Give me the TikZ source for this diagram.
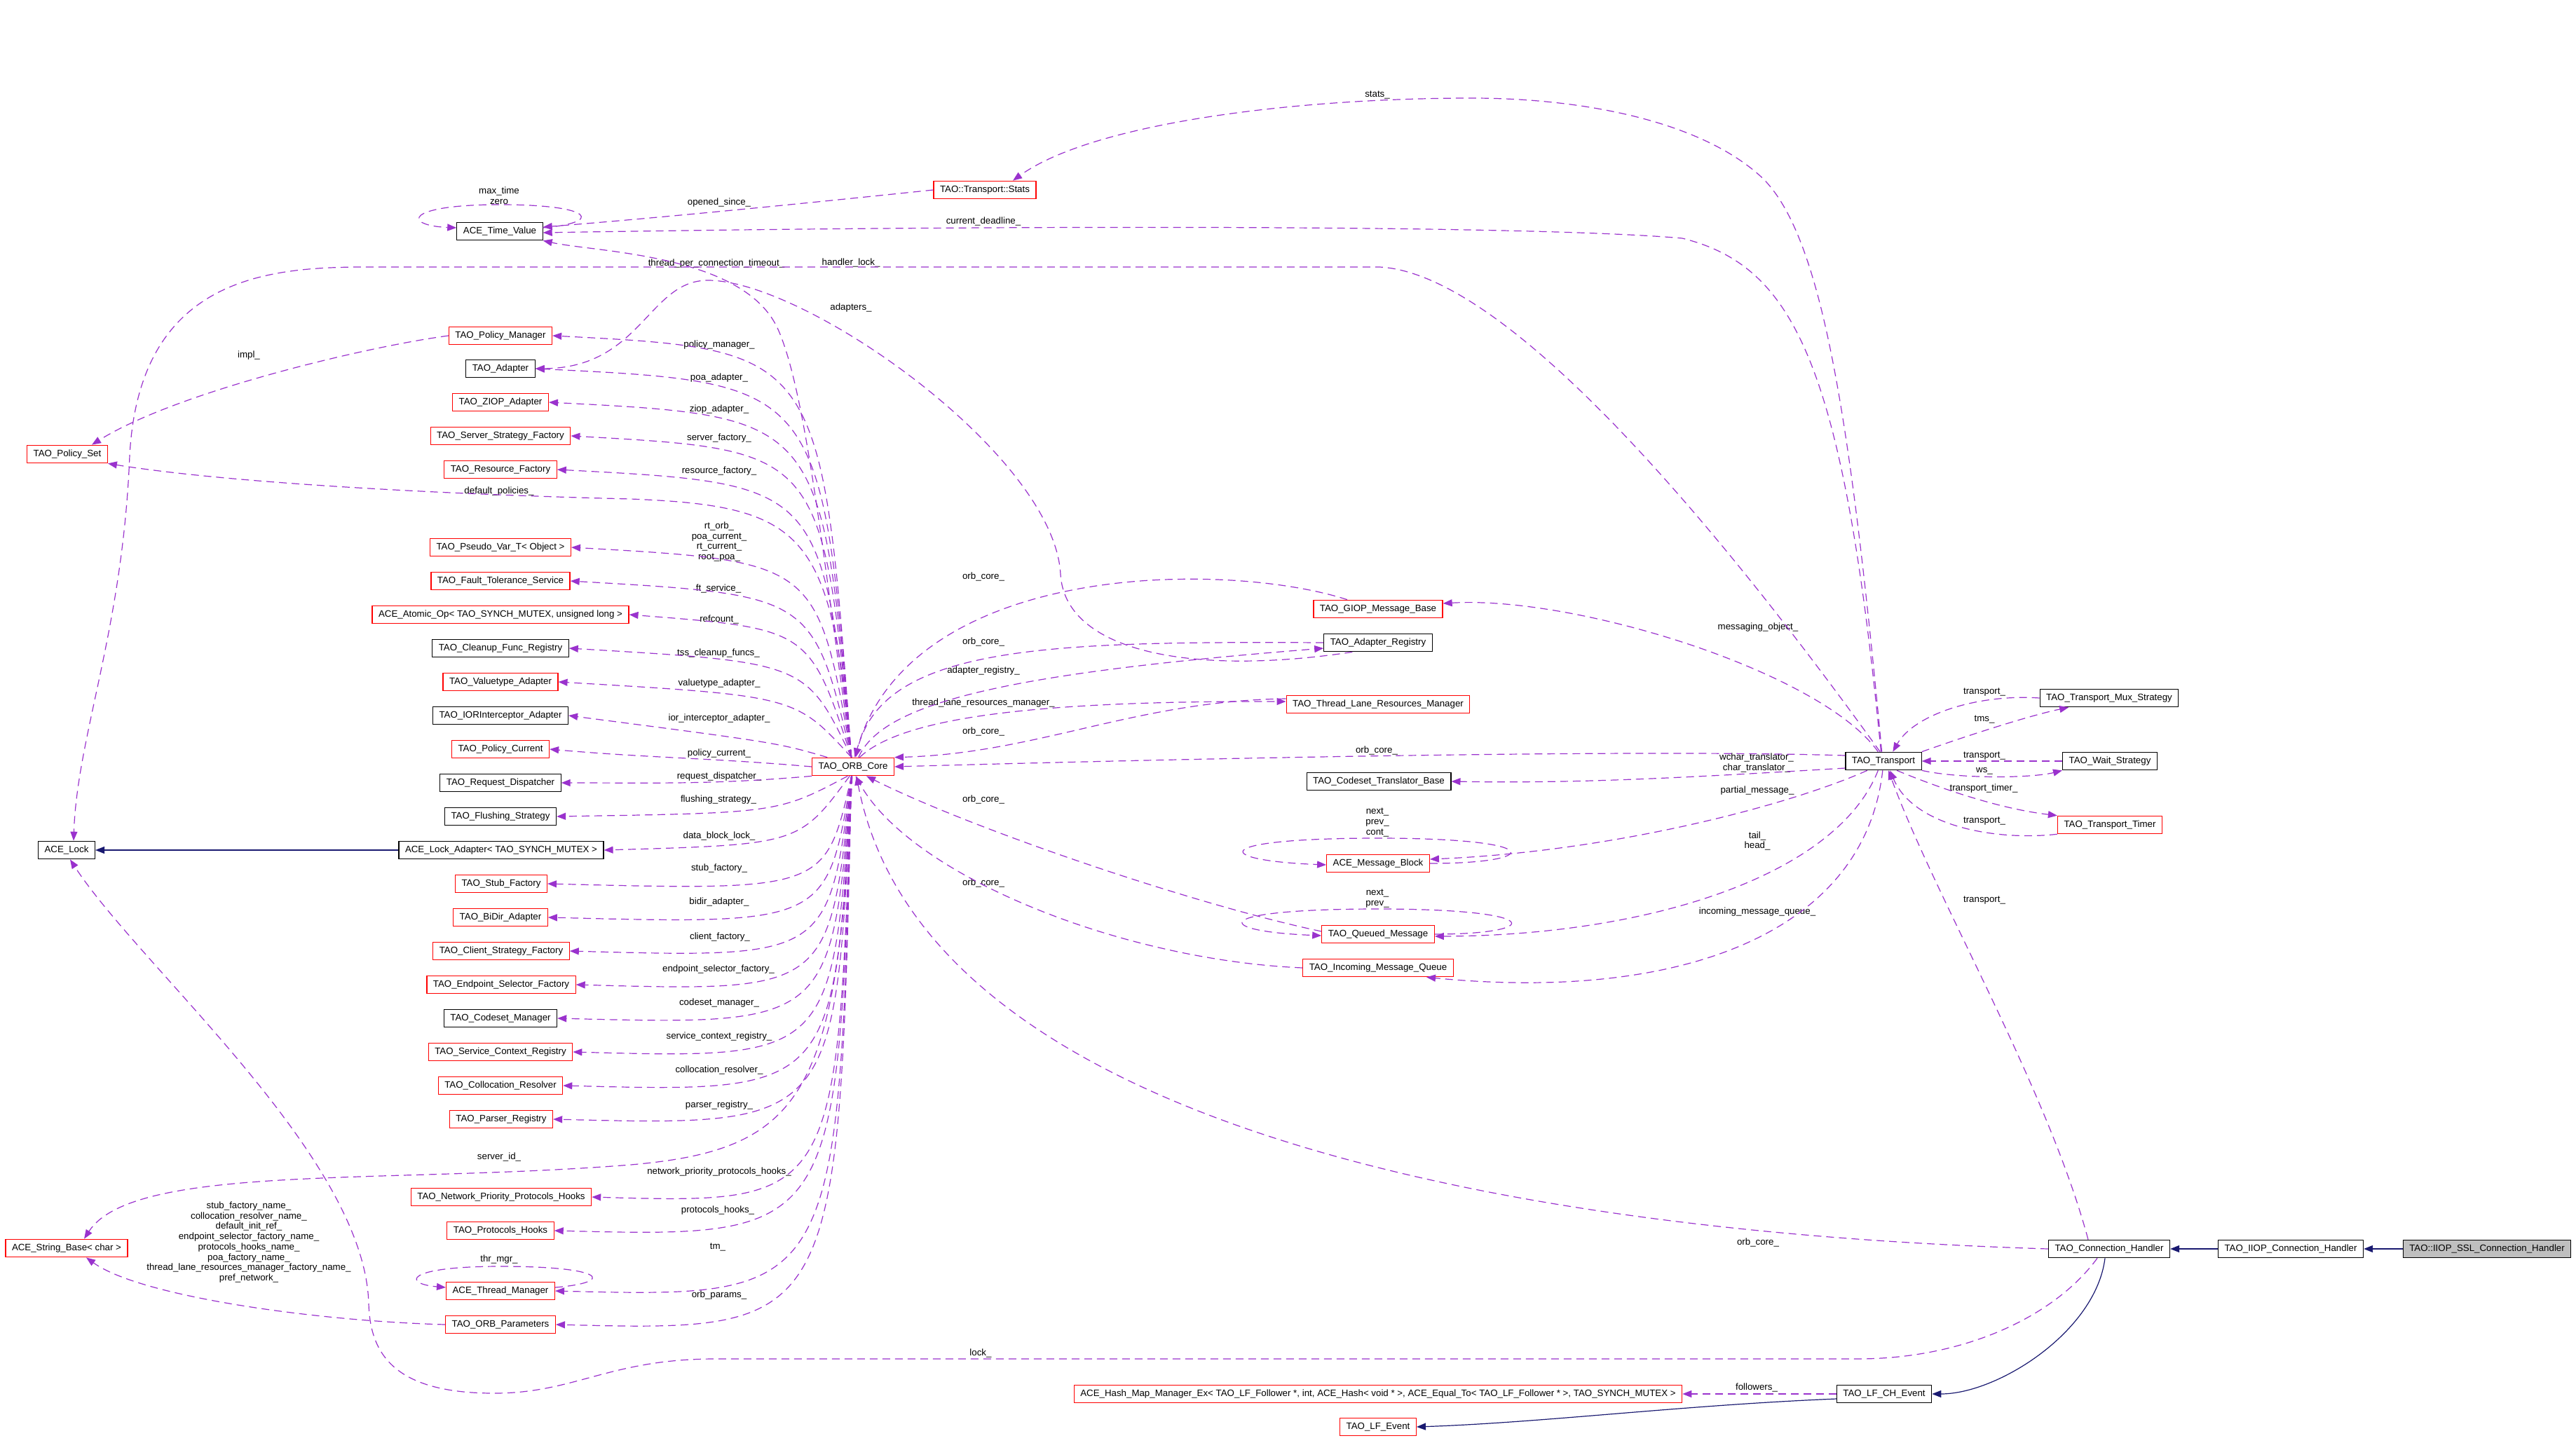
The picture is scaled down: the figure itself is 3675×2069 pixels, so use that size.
\documentclass[tikz,border=0pt]{standalone}
\usepackage{fontspec}
\setmainfont{Liberation Sans}
\usepackage{tikz}
\usetikzlibrary{arrows.meta}
\definecolor{depcol}{HTML}{9A32CD}
\definecolor{inhcol}{HTML}{191970}
\definecolor{boxgray}{HTML}{BFBFBF}

\begin{document}
\begin{tikzpicture}[x=1pt, y=1pt, >={Triangle[length=13pt,width=10pt]},
                        font=\fontsize{13.3}{14.7}\selectfont,
                        cls/.style={draw=black,line width=1.2pt,minimum height=25.5pt,inner xsep=9pt,text height=10pt,text depth=3pt},
                        clsr/.style={cls,draw=red},
                        clsg/.style={cls,fill=boxgray},
                        dep/.style={->,draw=depcol,line width=1.2pt,dash pattern=on 11pt off 7pt},
                        inh/.style={->,draw=inhcol,line width=1.2pt},
                        lbl/.style={inner sep=0pt,align=center}
                        ]
    \useasboundingbox (0,0) rectangle (3675,-2069);
    \node[cls] at (713,-330) (tv) {ACE\_Time\_Value};
    \node[clsr] at (1405,-271) (stats) {TAO::Transport::Stats};
    \node[clsr] at (714,-479) (pm) {TAO\_Policy\_Manager};
    \node[cls] at (714,-526) (ad) {TAO\_Adapter};
    \node[clsr] at (714,-574) (ziop) {TAO\_ZIOP\_Adapter};
    \node[clsr] at (714,-622) (ssf) {TAO\_Server\_Strategy\_Factory};
    \node[clsr] at (714,-670) (rf) {TAO\_Resource\_Factory};
    \node[clsr] at (96,-648) (pset) {TAO\_Policy\_Set};
    \node[clsr] at (714,-781) (pv) {TAO\_Pseudo\_Var\_T< Object >};
    \node[clsr] at (714,-829) (fts) {TAO\_Fault\_Tolerance\_Service};
    \node[clsr] at (714,-877) (aop) {ACE\_Atomic\_Op< TAO\_SYNCH\_MUTEX, unsigned long >};
    \node[cls] at (714,-925) (cfr) {TAO\_Cleanup\_Func\_Registry};
    \node[clsr] at (714,-973) (vta) {TAO\_Valuetype\_Adapter};
    \node[cls] at (714,-1021) (ior) {TAO\_IORInterceptor\_Adapter};
    \node[clsr] at (714,-1069) (pc) {TAO\_Policy\_Current};
    \node[cls] at (714,-1117) (rd) {TAO\_Request\_Dispatcher};
    \node[cls] at (714,-1165) (fs) {TAO\_Flushing\_Strategy};
    \node[cls] at (715,-1213) (lad) {ACE\_Lock\_Adapter< TAO\_SYNCH\_MUTEX >};
    \node[cls] at (95,-1213) (lock) {ACE\_Lock};
    \node[clsr] at (715,-1261) (stub) {TAO\_Stub\_Factory};
    \node[clsr] at (714,-1309) (bidir) {TAO\_BiDir\_Adapter};
    \node[clsr] at (715,-1357) (csf) {TAO\_Client\_Strategy\_Factory};
    \node[clsr] at (715,-1405) (esf) {TAO\_Endpoint\_Selector\_Factory};
    \node[cls] at (714,-1453) (cm) {TAO\_Codeset\_Manager};
    \node[clsr] at (714,-1501) (scr) {TAO\_Service\_Context\_Registry};
    \node[clsr] at (714,-1549) (cr) {TAO\_Collocation\_Resolver};
    \node[clsr] at (715,-1597) (pr) {TAO\_Parser\_Registry};
    \node[clsr] at (715,-1708) (npph) {TAO\_Network\_Priority\_Protocols\_Hooks};
    \node[clsr] at (714,-1756) (ph) {TAO\_Protocols\_Hooks};
    \node[clsr] at (714,-1842) (thm) {ACE\_Thread\_Manager};
    \node[clsr] at (714,-1890) (op) {TAO\_ORB\_Parameters};
    \node[clsr] at (95,-1781) (sb) {ACE\_String\_Base< char >};
    \node[clsr] at (1217,-1094) (orb) {TAO\_ORB\_Core};
    \node[clsr] at (1966,-869) (giop) {TAO\_GIOP\_Message\_Base};
    \node[cls] at (1966,-917) (ar) {TAO\_Adapter\_Registry};
    \node[clsr] at (1966,-1005) (tlrm) {TAO\_Thread\_Lane\_Resources\_Manager};
    \node[cls] at (1967,-1115) (ctb) {TAO\_Codeset\_Translator\_Base};
    \node[clsr] at (1966,-1232) (amb) {ACE\_Message\_Block};
    \node[clsr] at (1966,-1333) (qm) {TAO\_Queued\_Message};
    \node[clsr] at (1966,-1381) (imq) {TAO\_Incoming\_Message\_Queue};
    \node[cls] at (2687,-1086) (tr) {TAO\_Transport};
    \node[cls] at (3009,-996) (mux) {TAO\_Transport\_Mux\_Strategy};
    \node[cls] at (3010,-1086) (ws) {TAO\_Wait\_Strategy};
    \node[clsr] at (3010,-1177) (tt) {TAO\_Transport\_Timer};
    \node[cls] at (3009,-1782) (ch) {TAO\_Connection\_Handler};
    \node[cls] at (3268,-1782) (iiop) {TAO\_IIOP\_Connection\_Handler};
    \node[clsg] at (3548,-1782) (ssl) {TAO::IIOP\_SSL\_Connection\_Handler};
    \node[clsr] at (1966,-1989) (hash) {ACE\_Hash\_Map\_Manager\_Ex< TAO\_LF\_Follower *, int, ACE\_Hash< void * >, ACE\_Equal\_To< TAO\_LF\_Follower * >, TAO\_SYNCH\_MUTEX >};
    \node[cls] at (2688,-1989) (lfch) {TAO\_LF\_CH\_Event};
    \node[clsr] at (1966,-2036) (lfe) {TAO\_LF\_Event};

    \node[lbl] at (712,-279.5) (lzero) {max\_time\\zero};
    \node[lbl] at (1026,-289) (lopen) {opened\_since\_};
    \node[lbl] at (1965,-136) (lstats) {stats\_};
    \node[lbl] at (1403,-316) (ldead) {current\_deadline\_};
    \node[lbl] at (1022,-376) (ltpct) {thread\_per\_connection\_timeout\_};
    \node[lbl] at (1214,-375) (lhlock) {handler\_lock\_};
    \node[lbl] at (1214,-439) (ladapt) {adapters\_};
    \node[lbl] at (355,-507) (limpl) {impl\_};
    \node[lbl] at (1026,-492) (lpm) {policy\_manager\_};
    \node[lbl] at (1026,-539) (lpoa) {poa\_adapter\_};
    \node[lbl] at (1026,-584) (lziop) {ziop\_adapter\_};
    \node[lbl] at (1026,-625) (lssf) {server\_factory\_};
    \node[lbl] at (1026,-672) (lrf) {resource\_factory\_};
    \node[lbl] at (712,-701) (lpset) {default\_policies\_};
    \node[lbl] at (1026,-773) (lpv) {rt\_orb\_\\poa\_current\_\\rt\_current\_\\root\_poa\_};
    \node[lbl] at (1025,-840) (lfts) {ft\_service\_};
    \node[lbl] at (1026,-884) (laop) {refcount\_};
    \node[lbl] at (1025,-932) (lcfr) {tss\_cleanup\_funcs\_};
    \node[lbl] at (1026,-975) (lvta) {valuetype\_adapter\_};
    \node[lbl] at (1026,-1025) (lior) {ior\_interceptor\_adapter\_};
    \node[lbl] at (1026,-1075) (lpc) {policy\_current\_};
    \node[lbl] at (1026,-1108) (lrd) {request\_dispatcher\_};
    \node[lbl] at (1025,-1141) (lfs) {flushing\_strategy\_};
    \node[lbl] at (1026,-1193) (llad) {data\_block\_lock\_};
    \node[lbl] at (1026,-1239) (lstub) {stub\_factory\_};
    \node[lbl] at (1026,-1287) (lbidir) {bidir\_adapter\_};
    \node[lbl] at (1027,-1337) (lcsf) {client\_factory\_};
    \node[lbl] at (1025,-1383) (lesf) {endpoint\_selector\_factory\_};
    \node[lbl] at (1026,-1431) (lcm) {codeset\_manager\_};
    \node[lbl] at (1026,-1479) (lscr) {service\_context\_registry\_};
    \node[lbl] at (1026,-1527) (lcr) {collocation\_resolver\_};
    \node[lbl] at (1026,-1577) (lpr) {parser\_registry\_};
    \node[lbl] at (712,-1651) (lsid) {server\_id\_};
    \node[lbl] at (1026,-1672) (lnpph) {network\_priority\_protocols\_hooks\_};
    \node[lbl] at (1024,-1727) (lph) {protocols\_hooks\_};
    \node[lbl] at (1024,-1779) (ltm) {tm\_};
    \node[lbl] at (712,-1797) (lthr) {thr\_mgr\_};
    \node[lbl] at (1026,-1848) (lop) {orb\_params\_};
    \node[lbl] at (355,-1772.5) (lsb) {stub\_factory\_name\_\\collocation\_resolver\_name\_\\default\_init\_ref\_\\endpoint\_selector\_factory\_name\_\\protocols\_hooks\_name\_\\poa\_factory\_name\_\\thread\_lane\_resources\_manager\_factory\_name\_\\pref\_network\_};
    \node[lbl] at (1403,-823) (lgiop) {orb\_core\_};
    \node[lbl] at (1403,-916) (lar) {orb\_core\_};
    \node[lbl] at (1403,-957) (lareg) {adapter\_registry\_};
    \node[lbl] at (1403,-1003) (ltlrm) {thread\_lane\_resources\_manager\_};
    \node[lbl] at (1403,-1044) (ltlorb) {orb\_core\_};
    \node[lbl] at (1403,-1141) (lqm) {orb\_core\_};
    \node[lbl] at (1403,-1260) (limq) {orb\_core\_};
    \node[lbl] at (2508,-895) (lmsg) {messaging\_object\_};
    \node[lbl] at (1964,-1071) (ltrorb) {orb\_core\_};
    \node[lbl] at (2506,-1088.5) (lctb) {wchar\_translator\_\\char\_translator\_};
    \node[lbl] at (2507,-1128) (lamb) {partial\_message\_};
    \node[lbl] at (1965,-1173.5) (lambself) {next\_\\prev\_\\cont\_};
    \node[lbl] at (2507,-1200) (ltail) {tail\_\\head\_};
    \node[lbl] at (1965,-1282) (lqmself) {next\_\\prev\_};
    \node[lbl] at (2507,-1301) (limqt) {incoming\_message\_queue\_};
    \node[lbl] at (2831,-988) (lmux) {transport\_};
    \node[lbl] at (2831,-1027) (ltms) {tms\_};
    \node[lbl] at (2831,-1079) (lws) {transport\_};
    \node[lbl] at (2831,-1100) (lwsr) {ws\_};
    \node[lbl] at (2830,-1125) (ltt) {transport\_timer\_};
    \node[lbl] at (2831,-1172) (lttr) {transport\_};
    \node[lbl] at (2831,-1285) (lchtr) {transport\_};
    \node[lbl] at (2508,-1773) (lchorb) {orb\_core\_};
    \node[lbl] at (1399,-1931) (llock) {lock\_};
    \node[lbl] at (2506,-1980) (lfol) {followers\_};

    \draw[dep] ([yshift=5pt]tv.east) .. controls (860,-318) and (850,-292) .. (713,-292) .. controls (575,-292) and (575,-322) .. ([yshift=5pt]tv.west);
    \draw[dep] (stats.west) .. controls (1150,-290) and (950,-310) .. ([yshift=6pt]tv.east);
    \draw[dep] (tr.105) .. controls (2630,-520) and (2560,-380) .. (2400,-340) .. controls (2200,-322) and (1500,-320) .. ([yshift=-2pt]tv.east);
    \draw[dep] (tr.100) .. controls (2640,-600) and (2600,-330) .. (2510,-250) .. controls (2420,-170) and (2250,-140) .. (2100,-140) .. controls (1850,-140) and (1560,-175) .. ([xshift=40pt]stats.north);
    \draw[dep] (orb.100) .. controls (1175,-800) and (1150,-560) .. (1110,-470) .. controls (1062,-362) and (850,-360) .. (tv.south east);
    \draw[dep] (tr.110) .. controls (2450,-750) and (2150,-390) .. (1968,-381) -- (560,-381) .. controls (420,-381) and (200,-370) .. (185,-650) .. controls (175,-900) and (110,-1050) .. ([xshift=10pt]lock.north);
    \draw[dep] (ar.-160) .. controls (1700,-965) and (1520,-930) .. (1513,-820) .. controls (1505,-650) and (1150,-400) .. (1010,-400) .. controls (925,-400) and (915,-525) .. (ad.east);
    \draw[dep] (pm.west) .. controls (520,-495) and (250,-560) .. ([xshift=35pt]pset.north);
    \draw[dep] (orb.100) .. controls (1172,-499) .. (pm.east);
    \draw[dep] (orb.100) .. controls (1172,-546) .. (ad.east);
    \draw[dep] (orb.100) .. controls (1172,-594) .. (ziop.east);
    \draw[dep] (orb.100) .. controls (1172,-642) .. (ssf.east);
    \draw[dep] (orb.100) .. controls (1170,-690) .. (rf.east);
    \draw[dep] (orb.100) .. controls (1185,-760) and (1150,-722) .. (900,-712) .. controls (650,-706) and (330,-690) .. (pset.south east);
    \draw[dep] (orb.100) .. controls (1166,-801) .. (pv.east);
    \draw[dep] (orb.100) .. controls (1160,-849) .. (fts.east);
    \draw[dep] (orb.100) .. controls (1155,-897) .. (aop.east);
    \draw[dep] (orb.100) .. controls (1150,-945) .. (cfr.east);
    \draw[dep] (orb.100) .. controls (1135,-993) .. (vta.east);
    \draw[dep] (orb.160) .. controls (1110,-1060) .. (ior.east);
    \draw[dep] (orb.west) to [out=175,in=-5] (pc.east);
    \draw[dep] (orb.south west) to [out=185,in=0] (rd.east);
    \draw[dep] (orb.-120) .. controls (1110,-1160) .. (fs.east);
    \draw[dep] (orb.-110) .. controls (1140,-1205) .. (lad.east);
    \draw[inh] (lad.west) -- (lock.east);
    \draw[dep] (orb.-100) .. controls (1178,-1271) .. (stub.east);
    \draw[dep] (orb.-100) .. controls (1180,-1319) .. (bidir.east);
    \draw[dep] (orb.-100) .. controls (1182,-1367) .. (csf.east);
    \draw[dep] (orb.-100) .. controls (1184,-1415) .. (esf.east);
    \draw[dep] (orb.-100) .. controls (1186,-1463) .. (cm.east);
    \draw[dep] (orb.-100) .. controls (1188,-1511) .. (scr.east);
    \draw[dep] (orb.-100) .. controls (1190,-1559) .. (cr.east);
    \draw[dep] (orb.-100) .. controls (1192,-1607) .. (pr.east);
    \draw[dep] (orb.-95) .. controls (1195,-1560) and (1150,-1640) .. (900,-1662) .. controls (550,-1690) and (190,-1660) .. ([xshift=25pt]sb.north);
    \draw[dep] (orb.-100) .. controls (1194,-1718) .. (npph.east);
    \draw[dep] (orb.-100) .. controls (1195,-1766) .. (ph.east);
    \draw[dep] (orb.-100) .. controls (1196,-1852) .. (thm.east);
    \draw[dep] (orb.-100) .. controls (1197,-1900) .. (op.east);
    \draw[dep] ([yshift=5pt]thm.east) .. controls (877,-1830) and (867,-1807) .. (714,-1807) .. controls (575,-1807) and (575,-1832) .. ([yshift=5pt]thm.west);
    \draw[dep] (op.west) .. controls (450,-1885) and (200,-1850) .. ([xshift=28pt]sb.south);

    \draw[dep] ([xshift=-44pt]giop.north) .. controls (1750,-800) and (1300,-800) .. (orb.80);
    \draw[dep] (ar.west) .. controls (1500,-915) and (1260,-920) .. (orb.75);
    \draw[dep] (orb.60) .. controls (1260,-1000) and (1450,-960) .. ([yshift=-8pt]ar.west);
    \draw[dep] (orb.55) .. controls (1290,-1020) and (1500,-1000) .. ([yshift=4pt]tlrm.west);
    \draw[dep] ([yshift=8pt]tlrm.west) .. controls (1620,-1000) and (1480,-1075) .. (orb.north east);
    \draw[dep] ([yshift=8pt]tr.west) .. controls (2300,-1068) and (1600,-1085) .. (orb.east);
    \draw[dep] ([yshift=4pt]qm.west) .. controls (1700,-1290) and (1380,-1180) .. (orb.-35);
    \draw[dep] (imq.west) .. controls (1600,-1370) and (1300,-1250) .. (orb.-75);
    \draw[dep] (ch.west) .. controls (2200,-1760) and (1320,-1620) .. (orb.-70);

    \draw[dep] (tr.120) .. controls (2600,-960) and (2250,-850) .. ([yshift=8pt]giop.east);
    \draw[dep] ([yshift=-10pt]tr.west) .. controls (2400,-1110) and (2250,-1118) .. (ctb.east);
    \draw[dep] (tr.-150) .. controls (2550,-1150) and (2300,-1215) .. ([yshift=6pt]amb.east);
    \draw[dep] (amb.east) .. controls (2200,-1232) and (2210,-1196) .. (1966,-1196) .. controls (1720,-1196) and (1730,-1228) .. ([yshift=-2pt]amb.west);
    \draw[dep] (tr.-120) .. controls (2620,-1250) and (2350,-1335) .. ([yshift=-3pt]qm.east);
    \draw[dep] (qm.east) .. controls (2200,-1333) and (2210,-1297) .. (1966,-1297) .. controls (1720,-1297) and (1730,-1329) .. ([yshift=-2pt]qm.west);
    \draw[dep] (tr.-95) .. controls (2660,-1330) and (2400,-1430) .. ([xshift=69pt]imq.south);

    \draw[dep] (mux.west) .. controls (2820,-990) and (2730,-1020) .. (tr.45);
    \draw[dep] (tr.north east) .. controls (2820,-1045) and (2900,-1020) .. (mux.-167);
    \draw[dep] (ws.west) -- (tr.east);
    \draw[dep] (tr.south east) .. controls (2800,-1112) and (2900,-1110) .. (ws.south west);
    \draw[dep] (tr.-35) .. controls (2780,-1130) and (2860,-1155) .. (tt.north west);
    \draw[dep] (tt.-170) .. controls (2850,-1200) and (2730,-1180) .. (tr.-55);
    \draw[dep] ([xshift=-30pt]ch.north) .. controls (2920,-1550) and (2760,-1280) .. (tr.-62);

    \draw[inh] (ssl.west) -- (iiop.east);
    \draw[inh] (iiop.west) -- (ch.east);
    \draw[inh] ([xshift=-6pt]ch.south) .. controls (2990,-1900) and (2850,-1989) .. (lfch.east);
    \draw[dep] (lfch.west) -- (hash.east);
    \draw[inh] ([yshift=-7pt]lfch.west) .. controls (2400,-2005) and (2200,-2030) .. (lfe.east);
    \draw[dep] ([xshift=-17pt]ch.south) .. controls (2930,-1880) and (2800,-1939) .. (2650,-1939) -- (1020,-1939) .. controls (870,-1939) and (820,-1988) .. (705,-1988) .. controls (560,-1988) and (528,-1930) .. (526,-1860) .. controls (520,-1650) and (200,-1380) .. ([xshift=5pt]lock.south);
    \end{tikzpicture}
\end{document}
